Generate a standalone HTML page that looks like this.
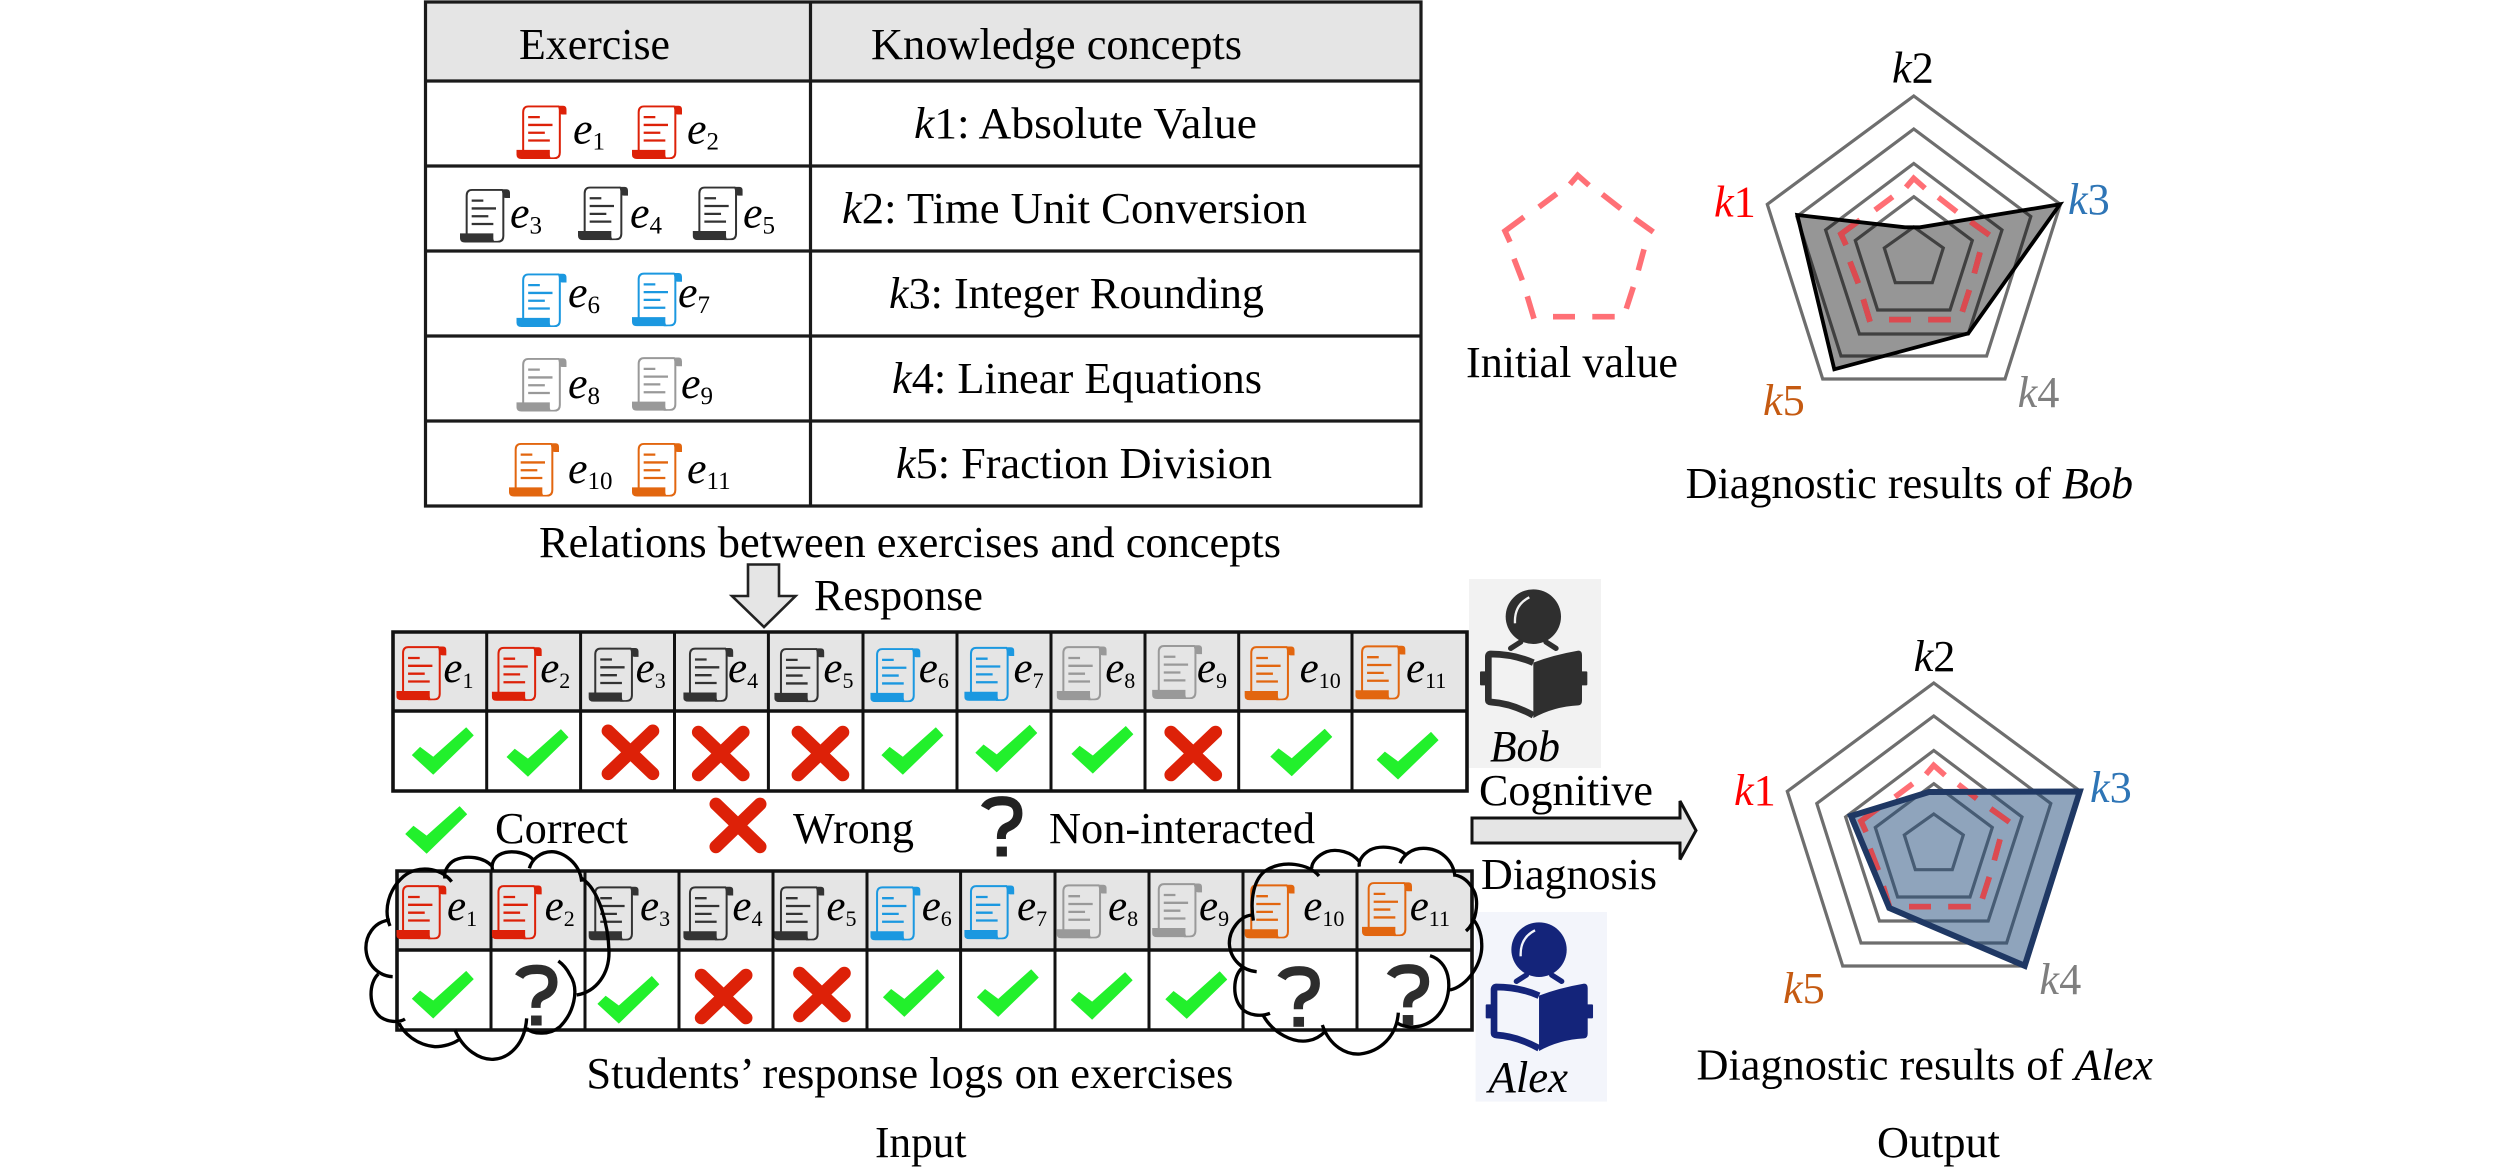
<!DOCTYPE html>
<html lang="en">
<head>
<meta charset="utf-8">
<title>Cognitive diagnosis diagram</title>
<style>
html,body{margin:0;padding:0;background:#fff;width:2520px;height:1172px;overflow:hidden}
svg{display:block}
text{font-family:"Liberation Serif",serif;font-size:44.3px;fill:#000}
.i{font-style:italic}
.n{font-style:normal}
.e{font-style:italic;font-size:44px}
.s{font-style:normal;font-size:25px}
.e2{font-style:italic;font-size:43px}
.s2{font-style:normal;font-size:22px}
.g{fill:none;stroke:#6e6e6e;stroke-width:3.2;stroke-linejoin:miter}
.cl{fill:none;stroke:#000;stroke-linecap:butt}
.r{color:#dd2108}.b{color:#333}.u{color:#1b98e0}.y{color:#999}.o{color:#e2660f}
</style>
</head>
<body>
<svg width="2520" height="1172" viewBox="0 0 2520 1172" xmlns="http://www.w3.org/2000/svg">
<defs>
<symbol id="sc" viewBox="0 0 150 168" preserveAspectRatio="none">
<path d="M20,142 V24 Q20,6 36,6 H128 M130,9 V148 Q130,166 112,166 H95" fill="none" stroke="currentColor" stroke-width="6"/>
<path d="M124,4 H140 Q150,4 150,16 V31 H138 Q129,31 129,22 Z" fill="currentColor"/>
<path d="M0,140 H100 V155 Q100,163 106,168 H15 Q0,168 0,155 Z" fill="currentColor"/>
<path d="M35,39 H70 M35,63 H108 M35,87 H85 M35,111 H100" fill="none" stroke="currentColor" stroke-width="7"/>
</symbol>
<symbol id="c" viewBox="0 0 188 145" preserveAspectRatio="none">
<polygon points="0,85 25,60 65,90 165,0 188,25 65,145" fill="#22f02c"/>
</symbol>
<symbol id="x" viewBox="0 0 175 170" preserveAspectRatio="none">
<path d="M21,21 L154,149 M154,21 L21,149" stroke="#dd2108" stroke-width="39" stroke-linecap="round" fill="none"/>
</symbol>
<symbol id="q" viewBox="0 0 133 185" preserveAspectRatio="none">
<path d="M14,38 Q26,16 68,16 Q116,16 116,54 Q116,82 88,94 Q65,102 65,125 V132" fill="none" stroke="currentColor" stroke-width="28"/>
<rect x="50" y="155" width="32" height="30" fill="currentColor"/>
</symbol>
<g id="student">
<ellipse cx="190" cy="110" rx="83" ry="82" fill="currentColor"/>
<path d="M135,130 Q132,75 178,52" fill="none" stroke="var(--h)" stroke-width="7"/>
<path d="M122,205 L152,186 M258,205 L228,186" stroke="currentColor" stroke-width="16" stroke-linecap="round" fill="none"/>
<path d="M190,248 Q250,225 325,212 Q336,212 336,225 V362 Q336,376 325,376 Q250,380 190,414 Z" fill="currentColor"/>
<path d="M190,248 Q130,222 62,222 Q55,222 55,230 V360 Q55,366 62,366 Q125,370 190,406" fill="none" stroke="currentColor" stroke-width="20"/>
<rect x="30" y="274" width="22" height="42" rx="3" fill="currentColor"/>
<rect x="332" y="274" width="20" height="42" rx="3" fill="currentColor"/>
</g>
<g id="grid">
<polygon class="g" points="1913.8,227 1943.3,248 1932.3,282.7 1895.3,282.7 1884.3,248"/>
<polygon class="g" points="1913.8,196.7 1972.3,240.5 1950,310 1877.6,310 1855.3,240.5"/>
<polygon class="g" points="1913.8,163.5 2002,230 1968.2,334 1859.4,334 1825.6,230"/>
<polygon class="g" points="1913.8,129 2030.8,216.5 1986.6,356 1841,356 1796.8,216.5"/>
<polygon class="g" points="1913.8,96 2060.4,204.3 2005,379 1822.7,379 1767.3,204.3"/>
</g>
<path id="dash" fill="none" stroke-width="5.6" d="M1906,187.3 L1913.7,178.3 L1925,188.3 M1938.3,197.3 L1956.7,211.7 M1970.7,221.7 L1989.3,235 M1980,252.3 L1974.3,273.3 M1969.3,290 L1962.3,311.7 M1950.7,319.7 H1928.3 M1911,319.7 H1889 M1870,321.7 L1863.3,299.3 M1858.3,283.3 L1850,261.7 M1846,245 L1841,234 L1860,220 M1875,210 L1892.7,196.7"/>
<clipPath id="cb"><polygon points="1797.3,215 1905,227.3 1920,227.3 2060,204.3 1968.3,333.3 1834.3,369.3"/></clipPath>
<clipPath id="ca"><polygon points="1851,816 1929,792 2079.8,791.5 2024.7,965.8 1889.3,908"/></clipPath>
</defs>

<!-- top table -->
<rect x="426" y="2" width="995" height="79" fill="#e5e5e5"/>
<path d="M425.5,2 H1421 V506 H425.5 Z M810.5,2 V506 M425.5,81 H1421 M425.5,166 H1421 M425.5,251 H1421 M425.5,336 H1421 M425.5,421 H1421" fill="none" stroke="#1a1a1a" stroke-width="3.2"/>
<text x="519" y="59" textLength="151" lengthAdjust="spacingAndGlyphs">Exercise</text>
<text x="871" y="59" textLength="371" lengthAdjust="spacingAndGlyphs">Knowledge concepts</text>
<text x="914" y="138" textLength="343" lengthAdjust="spacingAndGlyphs"><tspan class="i">k</tspan>1: Absolute Value</text>
<text x="842" y="223" textLength="465" lengthAdjust="spacingAndGlyphs"><tspan class="i">k</tspan>2: Time Unit Conversion</text>
<text x="889" y="308" textLength="375" lengthAdjust="spacingAndGlyphs"><tspan class="i">k</tspan>3: Integer Rounding</text>
<text x="892" y="393" textLength="370" lengthAdjust="spacingAndGlyphs"><tspan class="i">k</tspan>4: Linear Equations</text>
<text x="896" y="478" textLength="376" lengthAdjust="spacingAndGlyphs"><tspan class="i">k</tspan>5: Fraction Division</text>
<text x="539" y="557" textLength="742" lengthAdjust="spacingAndGlyphs">Relations between exercises and concepts</text>

<use href="#sc" class="r" x="516.5" y="104.5" width="50" height="54.5"/>
<use href="#sc" class="r" x="632" y="104.5" width="50" height="54.5"/>
<use href="#sc" class="b" x="460" y="188" width="50" height="54.5"/>
<use href="#sc" class="b" x="578" y="185.6" width="50" height="54.5"/>
<use href="#sc" class="b" x="692.7" y="185.6" width="50" height="54.5"/>
<use href="#sc" class="u" x="516.5" y="272.5" width="50" height="54.5"/>
<use href="#sc" class="u" x="632" y="271.7" width="50" height="54.5"/>
<use href="#sc" class="y" x="516.5" y="357" width="50" height="54.5"/>
<use href="#sc" class="y" x="632" y="356.2" width="50" height="54.5"/>
<use href="#sc" class="o" x="509" y="442" width="50" height="54.5"/>
<use href="#sc" class="o" x="632" y="442" width="50" height="54.5"/>

<text class="e" x="573" y="143.5">e<tspan class="s" dy="6">1</tspan></text>
<text class="e" x="687" y="143.5">e<tspan class="s" dy="6">2</tspan></text>
<text class="e" x="510" y="227.7">e<tspan class="s" dy="6">3</tspan></text>
<text class="e" x="630" y="227.7">e<tspan class="s" dy="6">4</tspan></text>
<text class="e" x="743" y="227.7">e<tspan class="s" dy="6">5</tspan></text>
<text class="e" x="568" y="307">e<tspan class="s" dy="6">6</tspan></text>
<text class="e" x="678" y="307">e<tspan class="s" dy="6">7</tspan></text>
<text class="e" x="568" y="398">e<tspan class="s" dy="6">8</tspan></text>
<text class="e" x="681" y="398">e<tspan class="s" dy="6">9</tspan></text>
<text class="e" x="568" y="483">e<tspan class="s" dy="6">10</tspan></text>
<text class="e" x="687" y="483">e<tspan class="s" dy="6">11</tspan></text>

<!-- down arrow -->
<polygon points="748,564.5 779,564.5 779,596 795.5,596 764,627 732,596 748,596" fill="#e5e5e5" stroke="#222" stroke-width="2.6"/>
<text x="814" y="610" textLength="169" lengthAdjust="spacingAndGlyphs">Response</text>

<!-- response table 1 -->
<rect x="393" y="632" width="1074" height="79" fill="#e5e5e5"/>
<path d="M393,632 H1467 V791 H393 Z M393,711 H1467" fill="none" stroke="#111" stroke-width="3.6"/>
<path d="M486.7,632 V791 M580.6,632 V791 M674.5,632 V791 M768.4,632 V791 M863,632 V791 M957,632 V791 M1051,632 V791 M1145,632 V791 M1238.7,632 V791 M1352,632 V791" fill="none" stroke="#111" stroke-width="3"/>
<use href="#sc" class="r" x="396.4" y="645.2" width="50" height="55"/>
<use href="#sc" class="r" x="491.8" y="645.9" width="50" height="55"/>
<use href="#sc" class="b" x="588.6" y="646.7" width="50" height="55"/>
<use href="#sc" class="b" x="683.3" y="646.7" width="50" height="55"/>
<use href="#sc" class="b" x="774.3" y="647.1" width="50" height="55"/>
<use href="#sc" class="u" x="870.4" y="647.1" width="50" height="55"/>
<use href="#sc" class="u" x="964.3" y="645.9" width="50" height="55"/>
<use href="#sc" class="y" x="1056.7" y="645.2" width="50" height="55"/>
<use href="#sc" class="y" x="1152.1" y="644" width="50" height="55"/>
<use href="#sc" class="o" x="1244.6" y="645.2" width="50" height="55"/>
<use href="#sc" class="o" x="1355.4" y="644.4" width="50" height="55"/>
<text class="e2" x="443.4" y="682">e<tspan class="s2" dy="6">1</tspan></text>
<text class="e2" x="540.2" y="682">e<tspan class="s2" dy="6">2</tspan></text>
<text class="e2" x="635.6" y="682">e<tspan class="s2" dy="6">3</tspan></text>
<text class="e2" x="728" y="682">e<tspan class="s2" dy="6">4</tspan></text>
<text class="e2" x="823.4" y="682">e<tspan class="s2" dy="6">5</tspan></text>
<text class="e2" x="918.8" y="682">e<tspan class="s2" dy="6">6</tspan></text>
<text class="e2" x="1013.5" y="682">e<tspan class="s2" dy="6">7</tspan></text>
<text class="e2" x="1105.2" y="682">e<tspan class="s2" dy="6">8</tspan></text>
<text class="e2" x="1196.9" y="682">e<tspan class="s2" dy="6">9</tspan></text>
<text class="e2" x="1299.6" y="682">e<tspan class="s2" dy="6">10</tspan></text>
<text class="e2" x="1406" y="682">e<tspan class="s2" dy="6">11</tspan></text>
<use href="#c" x="411.8" y="727.2" width="62" height="47.6"/>
<use href="#c" x="506.5" y="729.1" width="62" height="47.6"/>
<use href="#x" x="601.1" y="724" width="58.7" height="56.6"/>
<use href="#x" x="691.4" y="725.2" width="58.7" height="56.6"/>
<use href="#x" x="791.1" y="725.2" width="58.7" height="56.6"/>
<use href="#c" x="881.4" y="727.2" width="62" height="47.6"/>
<use href="#c" x="975.3" y="724.8" width="62" height="47.6"/>
<use href="#c" x="1071.4" y="726" width="62" height="47.6"/>
<use href="#x" x="1163.9" y="725.2" width="58.7" height="56.6"/>
<use href="#c" x="1270.3" y="728.7" width="62" height="47.6"/>
<use href="#c" x="1376.6" y="731.9" width="62" height="47.6"/>

<!-- legend -->
<use href="#c" x="405.2" y="806.1" width="62" height="47.6"/>
<text x="495" y="843" textLength="133" lengthAdjust="spacingAndGlyphs">Correct</text>
<use href="#x" x="709" y="797.1" width="58" height="56.6"/>
<text x="793" y="843" textLength="121" lengthAdjust="spacingAndGlyphs">Wrong</text>
<use href="#q" style="color:#222" x="980.4" y="795.5" width="43" height="61"/>
<text x="1049" y="843" textLength="266" lengthAdjust="spacingAndGlyphs">Non-interacted</text>

<!-- response table 2 -->
<rect x="397" y="871" width="1075" height="79" fill="#e5e5e5"/>
<path d="M397,871 H1472 V1030 H397 Z M397,950 H1472" fill="none" stroke="#111" stroke-width="3.6"/>
<path d="M491,871 V1030 M585,871 V1030 M679,871 V1030 M773,871 V1030 M867,871 V1030 M960.6,871 V1030 M1055,871 V1030 M1149,871 V1030 M1243,871 V1030 M1357,871 V1030" fill="none" stroke="#111" stroke-width="3"/>
<use href="#sc" class="r" x="396.4" y="884.2" width="50" height="55"/>
<use href="#sc" class="r" x="491.8" y="884.2" width="50" height="55"/>
<use href="#sc" class="b" x="588.6" y="885.4" width="50" height="55"/>
<use href="#sc" class="b" x="683.3" y="885.4" width="50" height="55"/>
<use href="#sc" class="b" x="774.3" y="885.4" width="50" height="55"/>
<use href="#sc" class="u" x="870.4" y="885.4" width="50" height="55"/>
<use href="#sc" class="u" x="964.3" y="884.2" width="50" height="55"/>
<use href="#sc" class="y" x="1056.7" y="883.4" width="50" height="55"/>
<use href="#sc" class="y" x="1152.1" y="882.2" width="50" height="55"/>
<use href="#sc" class="o" x="1244.6" y="883.4" width="50" height="55"/>
<use href="#sc" class="o" x="1362" y="881.1" width="50" height="55"/>
<text class="e2" x="447" y="920">e<tspan class="s2" dy="6">1</tspan></text>
<text class="e2" x="544.6" y="920">e<tspan class="s2" dy="6">2</tspan></text>
<text class="e2" x="640" y="920">e<tspan class="s2" dy="6">3</tspan></text>
<text class="e2" x="732.4" y="920">e<tspan class="s2" dy="6">4</tspan></text>
<text class="e2" x="826.4" y="920">e<tspan class="s2" dy="6">5</tspan></text>
<text class="e2" x="921.7" y="920">e<tspan class="s2" dy="6">6</tspan></text>
<text class="e2" x="1017" y="920">e<tspan class="s2" dy="6">7</tspan></text>
<text class="e2" x="1108" y="920">e<tspan class="s2" dy="6">8</tspan></text>
<text class="e2" x="1199" y="920">e<tspan class="s2" dy="6">9</tspan></text>
<text class="e2" x="1303.3" y="920">e<tspan class="s2" dy="6">10</tspan></text>
<text class="e2" x="1409.7" y="920">e<tspan class="s2" dy="6">11</tspan></text>
<use href="#c" x="411.8" y="970.9" width="62" height="47.6"/>
<use href="#q" style="color:#2d2d2d" x="514.5" y="964" width="44" height="61.5"/>
<use href="#c" x="597.4" y="976" width="62" height="47.6"/>
<use href="#x" x="694.3" y="968.2" width="58.7" height="56.6"/>
<use href="#x" x="792.6" y="966.2" width="58.7" height="56.6"/>
<use href="#c" x="882.9" y="969.3" width="62" height="47.6"/>
<use href="#c" x="976.8" y="969.3" width="62" height="47.6"/>
<use href="#c" x="1070.7" y="972.1" width="62" height="47.6"/>
<use href="#c" x="1165.3" y="971.3" width="62" height="47.6"/>
<use href="#q" style="color:#2d2d2d" x="1276.9" y="965.4" width="44" height="61.5"/>
<use href="#q" style="color:#2d2d2d" x="1386.2" y="963.5" width="44" height="61.5"/>

<!-- students backgrounds -->
<rect x="1469" y="579" width="132" height="189" fill="#f2f2f2"/>
<rect x="1475.6" y="912" width="131.4" height="189.6" fill="#f3f5fb"/>
<g transform="translate(1470,580) scale(.33333)" style="color:#2f2f2f;--h:#f2f2f2"><use href="#student"/></g>
<g transform="translate(1475.7,913) scale(.33333)" style="color:#14247a;--h:#f3f5fb"><use href="#student"/></g>
<text class="i" x="1490" y="761" textLength="70" lengthAdjust="spacingAndGlyphs">Bob</text>
<text class="i" x="1488.5" y="1092" textLength="79.5" lengthAdjust="spacingAndGlyphs">Alex</text>

<!-- left cloud -->
<g transform="translate(360,850) scale(.33333)">
<path class="cl" style="stroke-width:10" d="M275,95 C240,50 170,45 130,80 C85,120 70,180 90,228 M90,210 C40,215 15,260 18,300 C22,345 55,378 98,380 M55,372 C25,400 25,470 60,500 C80,515 115,520 135,507 M115,515 C130,550 170,585 225,590 C250,590 280,582 298,568 M285,540 C310,600 360,630 400,628 C450,625 495,580 500,505 M500,535 C520,555 570,555 600,530 C640,490 660,420 630,375 C620,355 605,340 595,333 M650,435 C710,425 748,370 747,305 C745,230 720,120 665,85 M665,95 C660,40 610,5 575,5 C540,5 515,30 508,55 M520,30 C500,5 440,-5 410,20 C395,35 395,50 398,60 M398,50 C370,20 320,15 285,30 C265,40 250,65 255,85"/>
</g>
<!-- right cloud -->
<g transform="translate(1220,850) scale(.33333)">
<path class="cl" style="stroke-width:10" d="M297,78 C265,40 190,30 140,60 C100,85 90,150 100,212 M100,195 C60,195 28,240 28,280 C30,330 70,362 110,365 M65,355 C40,380 35,440 65,475 C85,498 125,500 150,490 M130,497 C160,550 220,580 265,572 C290,568 305,555 315,545 M307,525 C330,590 380,615 420,612 C480,605 530,560 535,488 M530,518 C555,535 610,540 650,500 C690,460 700,380 665,340 C655,328 640,320 630,317 M690,420 C740,410 790,340 785,280 C785,250 770,215 755,205 M738,243 C770,215 775,160 765,130 C750,95 730,80 705,75 M705,80 C700,30 660,-5 610,-5 C575,-5 550,15 540,40 M558,15 C535,-10 480,-15 450,0 C425,15 415,35 418,50 M418,35 C395,5 350,-5 320,5 C295,15 275,35 275,55"/>
</g>

<text x="586.4" y="1088" textLength="647" lengthAdjust="spacingAndGlyphs">Students’ response logs on exercises</text>
<text x="875" y="1157" textLength="91.5" lengthAdjust="spacingAndGlyphs">Input</text>

<!-- big arrow -->
<polygon points="1472,818 1680,818 1680,801 1696,830.5 1680,859.5 1680,843 1472,843" fill="#e5e5e5" stroke="#111" stroke-width="3"/>
<text x="1479" y="805" textLength="174" lengthAdjust="spacingAndGlyphs">Cognitive</text>
<text x="1481" y="889" textLength="176" lengthAdjust="spacingAndGlyphs">Diagnosis</text>

<!-- initial value -->
<g transform="translate(-336,-3)"><use href="#dash" stroke="#ff7076"/></g>
<text x="1466" y="377" textLength="212" lengthAdjust="spacingAndGlyphs">Initial value</text>

<!-- Bob radar -->
<use href="#dash" stroke="#ff6f75"/>
<use href="#grid"/>
<polygon points="1797.3,215 1905,227.3 1920,227.3 2060,204.3 1968.3,333.3 1834.3,369.3" fill="#000" fill-opacity=".41"/>
<g clip-path="url(#cb)"><use href="#dash" stroke="#dc4a50"/></g>
<polygon points="1797.3,215 1905,227.3 1920,227.3 2060,204.3 1968.3,333.3 1834.3,369.3" fill="none" stroke="#000" stroke-width="3.8"/>
<text x="1892" y="82.7"><tspan class="i">k</tspan>2</text>
<text x="1714" y="216.7" style="fill:#f00"><tspan class="i">k</tspan>1</text>
<text x="2068" y="214" style="fill:#2e75b6"><tspan class="i">k</tspan>3</text>
<text x="2017.6" y="407" style="fill:#7f7f7f"><tspan class="i">k</tspan>4</text>
<text x="1763" y="415" style="fill:#c55a11"><tspan class="i">k</tspan>5</text>
<text x="1685.6" y="498" textLength="447.5" lengthAdjust="spacingAndGlyphs">Diagnostic results of <tspan class="i">Bob</tspan></text>

<!-- Alex radar -->
<g transform="translate(20,587)"><use href="#dash" stroke="#ff6f75"/><use href="#grid"/></g>
<polygon points="1851,816 1929,792 2079.8,791.5 2024.7,965.8 1889.3,908" fill="#1f4a7a" fill-opacity=".5"/>
<g clip-path="url(#ca)"><g transform="translate(20,587)"><use href="#dash" stroke="#dc4a50"/></g></g>
<polygon points="1851,816 1929,792 2079.8,791.5 2024.7,965.8 1889.3,908" fill="none" stroke="#1f3864" stroke-width="6"/>
<text x="1913.6" y="671"><tspan class="i">k</tspan>2</text>
<text x="1734" y="805" style="fill:#f00"><tspan class="i">k</tspan>1</text>
<text x="2090" y="802" style="fill:#2e75b6"><tspan class="i">k</tspan>3</text>
<text x="2039.4" y="994" style="fill:#7f7f7f"><tspan class="i">k</tspan>4</text>
<text x="1783" y="1003" style="fill:#c55a11"><tspan class="i">k</tspan>5</text>
<text x="1696.5" y="1079.5" textLength="456.5" lengthAdjust="spacingAndGlyphs">Diagnostic results of <tspan class="i">Alex</tspan></text>
<text x="1877" y="1157" textLength="123" lengthAdjust="spacingAndGlyphs">Output</text>
</svg>
</body>
</html>
